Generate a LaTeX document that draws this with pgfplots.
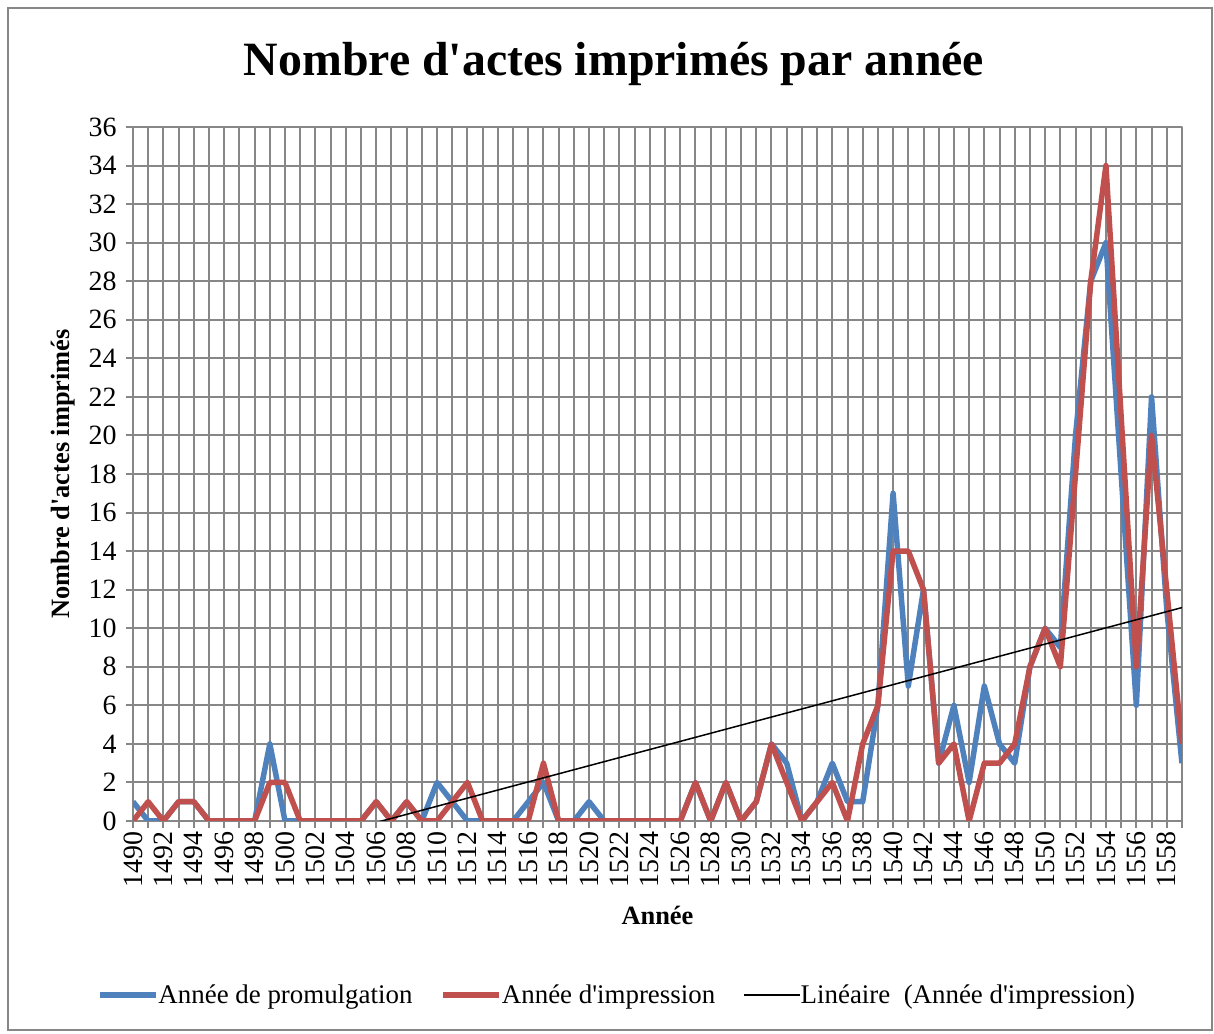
\documentclass[border=0pt]{standalone}
\usepackage{fontspec}
\setmainfont{Liberation Serif}
\usepackage{pgfplots}
\usepackage{pgfplotstable}
\pgfplotsset{compat=1.18}
\definecolor{bl}{HTML}{4F81BD}
\definecolor{rd}{HTML}{C0504D}
\definecolor{gr}{HTML}{878787}
\newcommand{\q}{\textquotesingle}
\pgfplotstableread{
i blue red
0 1 0
1 0 1
2 0 0
3 1 1
4 1 1
5 0 0
6 0 0
7 0 0
8 0 0
9 4 2
10 0 2
11 0 0
12 0 0
13 0 0
14 0 0
15 0 0
16 1 1
17 0 0
18 1 1
19 0 0
20 2 0
21 1 1
22 0 2
23 0 0
24 0 0
25 0 0
26 1 0
27 2 3
28 0 0
29 0 0
30 1 0
31 0 0
32 0 0
33 0 0
34 0 0
35 0 0
36 0 0
37 2 2
38 0 0
39 2 2
40 0 0
41 1 1
42 4 4
43 3 2
44 0 0
45 1 1
46 3 2
47 1 0
48 1 4
49 6 6
50 17 14
51 7 14
52 12 12
53 3 3
54 6 4
55 2 0
56 7 3
57 4 3
58 3 4
59 8 8
60 10 10
61 9 8
62 20 18
63 28 28
64 30 34
65 18 21
66 6 8
67 22 20
68 11 12
69 3 4
}\data
\begin{document}
\begin{tikzpicture}[x=1bp,y=1bp]
\useasboundingbox (0,0) rectangle (1214,1034);
\draw[gr, line width=1.5bp] (8,4) rectangle (1212,1026);
\node[font=\fontsize{48}{54}\selectfont\bfseries] at (614,970) {Nombre d\q actes imprimés par année};
\begin{axis}[
  at={(133bp,213bp)}, anchor=south west,
  scale only axis, width=1049bp, height=694bp,
  xmin=0, xmax=69, ymin=0, ymax=36,
  xtick={0,2,...,68},
  xticklabels={1490,1492,1494,1496,1498,1500,1502,1504,1506,1508,1510,1512,1514,1516,1518,1520,1522,1524,1526,1528,1530,1532,1534,1536,1538,1540,1542,1544,1546,1548,1550,1552,1554,1556,1558},
  minor xtick={1,3,...,69},
  ytick={0,2,...,36},
  xtick pos=bottom, ytick pos=left,
  grid=both,
  major grid style={gr, line width=2bp},
  minor grid style={gr, line width=2bp},
  tick align=outside,
  major tick length=7bp, minor tick length=7bp,
  tick style={gr, line width=2bp},
  axis line style={gr, line width=2bp},
  /pgf/number format/assume math mode=true,
  xticklabel style={rotate=90, anchor=east, font=\fontsize{28}{32}\selectfont},
  yticklabel style={font=\fontsize{28}{32}\selectfont, xshift=-6bp},
  xlabel={Année}, ylabel={Nombre d\q actes imprimés},
  xlabel style={at={(axis description cs:0.5,-0.1355)}, anchor=center, font=\fontsize{26.5}{30}\selectfont\bfseries},
  ylabel style={at={(axis description cs:-0.0667,0.5)}, anchor=center, font=\fontsize{26.5}{30}\selectfont\bfseries},
  legend columns=3,
  legend style={at={(axis description cs:0.4614,-0.2507)}, anchor=center, draw=none, fill=none,
    font=\fontsize{27}{31}\selectfont,
    /tikz/every even column/.append style={column sep=26bp},
    /tikz/every odd column/.append style={column sep=-2bp}},
  legend cell align=left,
  legend image code/.code={\draw[#1] (0bp,0bp) -- (56bp,0bp);},
  line join=round,
]
\addplot[bl, line width=5.5bp, line join=round] table[x=i, y=blue] {\data};
\addlegendentry{Année de promulgation}
\addplot[rd, line width=5.5bp, line join=round] table[x=i, y=red] {\data};
\addlegendentry{Année d\q impression}
\addplot[black, line width=1.5bp] table[x=i, y={create col/linear regression={y=red}}] {\data};
\addlegendentry{Linéaire\ \ (Année d\q impression)}
\end{axis}
\end{tikzpicture}
\end{document}
